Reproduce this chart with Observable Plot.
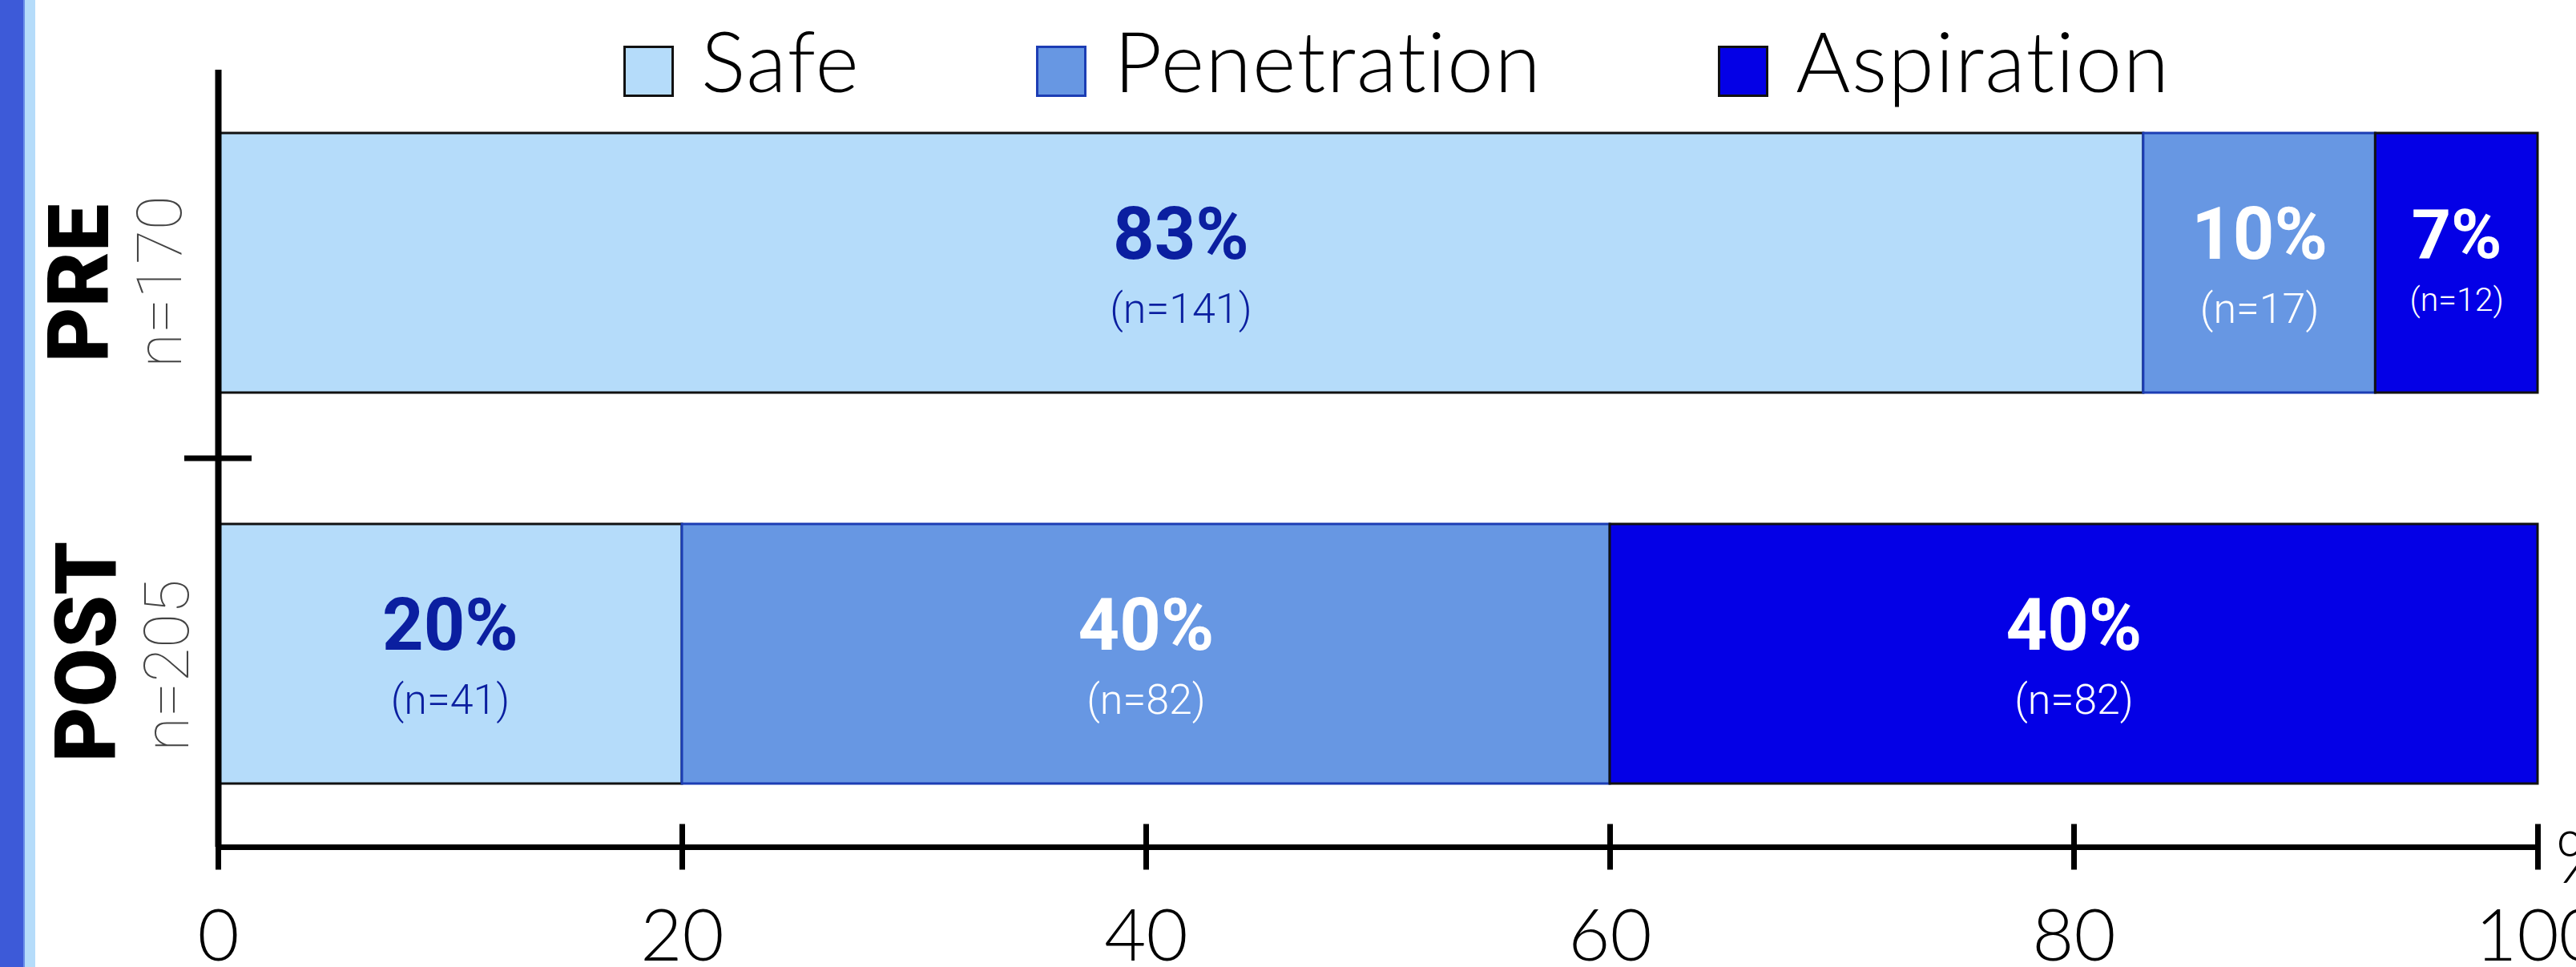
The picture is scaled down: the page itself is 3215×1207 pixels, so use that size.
<!DOCTYPE html>
<html>
<head>
<meta charset="utf-8">
<script src="https://cdn.jsdelivr.net/npm/d3@7"></script>
<script src="https://cdn.jsdelivr.net/npm/@observablehq/plot@0.6"></script>
<style>
  html, body { margin: 0; padding: 0; background: #fff; overflow: hidden; width: 3215px; height: 1207px; }
  #wrap { position: relative; width: 3215px; height: 1207px; }
  #chart { position: absolute; left: 0; top: 0; }
  .stripe { position: absolute; top: 0; height: 1207px; z-index: 2; }
  #legend { position: absolute; left: 778px; top: 23px; display: flex; gap: 220px; z-index: 3;
            font-family: Lato, "Open Sans", sans-serif; font-weight: 300; font-size: 104px; line-height: 104px;
            letter-spacing: 1.5px; color: #000; }
  .item { display: flex; align-items: flex-start; }
  .box { box-sizing: border-box; width: 63px; height: 64px; margin-top: 34px; margin-right: 34px; border: 3px solid #000; }
  g[aria-label="group-n"] text { letter-spacing: 6px; }
  g[aria-label="count"] text { letter-spacing: 2px; }
</style>
</head>
<body>
<div id="wrap">
  <div class="stripe" style="left:0;width:29px;background:#3d5ad8"></div>
  <div class="stripe" style="left:29px;width:2px;background:#6a8fe8"></div>
  <div class="stripe" style="left:31px;width:13px;background:#b5dcfa"></div>
  <div id="legend"></div>
  <div id="chart"></div>
</div>
<script>
// ---- data ----
const groups = ["PRE", "POST"];
const groupN = [170, 205];
const cats = ["Safe", "Penetration", "Aspiration"];
const preCounts = [141, 17, 12];
const postCounts = [41, 82, 82];
const prePct = [83, 10, 7];
const postPct = [20, 40, 40];
const xTicks = [0, 20, 40, 60, 80, 100];
const xDomain = [0, 100];

// ---- styles ----
const catFill = ["#b5dcfa", "#6797e3", "#0400e6"];
const catStroke = ["#111111", "#1c3db4", "#111111"];
const catLabel = ["#0b1fa0", "#ffffff", "#ffffff"];

// build table
const counts = [preCounts, postCounts];
const pcts = [prePct, postPct];
const rows = [];
groups.forEach((g, gi) => {
  let acc = 0;
  cats.forEach((c, ci) => {
    const p = pcts[gi][ci];
    rows.push({group: g, cat: c, pct: p, n: counts[gi][ci], x1: acc, x2: acc + p});
    acc += p;
  });
});

// legend
const legend = document.getElementById("legend");
cats.forEach((c, i) => {
  const item = document.createElement("div");
  item.className = "item";
  const box = document.createElement("div");
  box.className = "box";
  box.style.background = catFill[i];
  box.style.borderColor = catStroke[i];
  const label = document.createElement("span");
  label.textContent = c;
  item.appendChild(box);
  item.appendChild(label);
  legend.appendChild(item);
});

const groupStyle = {
  PRE:  {tdx: -171, tdy: 25, ndx: -71, ndy: 23},
  POST: {tdx: -162, tdy: -3, ndx: -62, ndy: 14}
};

const marks = [];

// bars
cats.forEach((c, i) => {
  marks.push(Plot.barX(rows, {
    filter: d => d.cat === c,
    x1: "x1", x2: "x2", y: "group", fill: "cat",
    stroke: catStroke[i], strokeWidth: 3
  }));
});

// percentage + count labels
cats.forEach((c, i) => {
  marks.push(Plot.text(rows, {
    filter: d => d.cat === c,
    x: d => (d.x1 + d.x2) / 2, y: "group",
    text: d => d.pct + "%",
    fill: catLabel[i], fontFamily: "Roboto", fontWeight: 700,
    fontSize: d => d.pct < 8 ? 86 : 90,
    dy: -34
  }));
  marks.push(Plot.text(rows, {
    filter: d => d.cat === c && d.pct >= 8,
    x: d => (d.x1 + d.x2) / 2, y: "group",
    text: d => "(n=" + d.n + ")",
    fill: catLabel[i], fontFamily: "Roboto", fontWeight: 300, fontSize: 52,
    dy: 58, ariaLabel: "count"
  }));
  marks.push(Plot.text(rows, {
    filter: d => d.cat === c && d.pct < 8,
    x: d => (d.x1 + d.x2) / 2, y: "group",
    text: d => "(n=" + d.n + ")",
    fill: catLabel[i], fontFamily: "Roboto", fontWeight: 300, fontSize: 41,
    dy: 46, ariaLabel: "count"
  }));
});

// axes lines
marks.push(Plot.ruleX([xDomain[0]], {stroke: "#000", strokeWidth: 8}));
marks.push(Plot.frame({anchor: "bottom", stroke: "#000", strokeWidth: 7}));
marks.push(Plot.axisX(xTicks, {tickSize: 57, dy: -28.5, strokeWidth: 7, stroke: "#000",
  fill: "none", tickFormat: () => "", label: null}));
marks.push(Plot.axisX(xTicks, {tickSize: 0, tickPadding: 78, fontSize: 90, fontFamily: "Lato",
  fontWeight: 300, fill: "#000", label: null}));
marks.push(Plot.text([xDomain[1]], {x: d => d, frameAnchor: "bottom", lineAnchor: "middle", text: () => "%",
  textAnchor: "start", dx: 22, dy: 16, fontSize: 90, fontFamily: "Lato", fontWeight: 300, fill: "#000"}));

// separator tick between bands on the y axis
marks.push((index, scales) => {
  const y = scales.y, x = scales.x;
  const bw = y.bandwidth ? y.bandwidth() : 0;
  const yMid = (y(groups[0]) + bw + y(groups[1])) / 2;
  const x0 = x(xDomain[0]);
  const ln = document.createElementNS("http://www.w3.org/2000/svg", "line");
  ln.setAttribute("x1", x0 - 42); ln.setAttribute("x2", x0 + 42);
  ln.setAttribute("y1", yMid); ln.setAttribute("y2", yMid);
  ln.setAttribute("stroke", "#000"); ln.setAttribute("stroke-width", 7);
  return ln;
});

// y group labels
groups.forEach((g, gi) => {
  const s = groupStyle[g];
  marks.push(Plot.text([g], {
    x: () => xDomain[0], y: d => d, text: d => d, rotate: -90,
    fontFamily: "Roboto", fontWeight: 900, fontSize: 106, fill: "#000",
    dx: s.tdx, dy: s.tdy
  }));
  marks.push(Plot.text([g], {
    x: () => xDomain[0], y: d => d, text: () => "n=" + groupN[gi], rotate: -90,
    fontFamily: "Roboto", fontWeight: 100, fontSize: 78, fill: "#444",
    dx: s.ndx, dy: s.ndy, ariaLabel: "group-n"
  }));
});

const chart = Plot.plot({
  width: 3215, height: 1207,
  marginLeft: 272, marginRight: 48, marginTop: 87, marginBottom: 150,
  style: {background: "transparent", overflow: "visible"},
  x: {domain: xDomain, axis: null, label: null},
  y: {domain: groups, paddingInner: 0.337, paddingOuter: 0.162, axis: null, label: null},
  color: {domain: cats, range: catFill},
  marks
});
document.getElementById("chart").appendChild(chart);
</script>
</body>
</html>
